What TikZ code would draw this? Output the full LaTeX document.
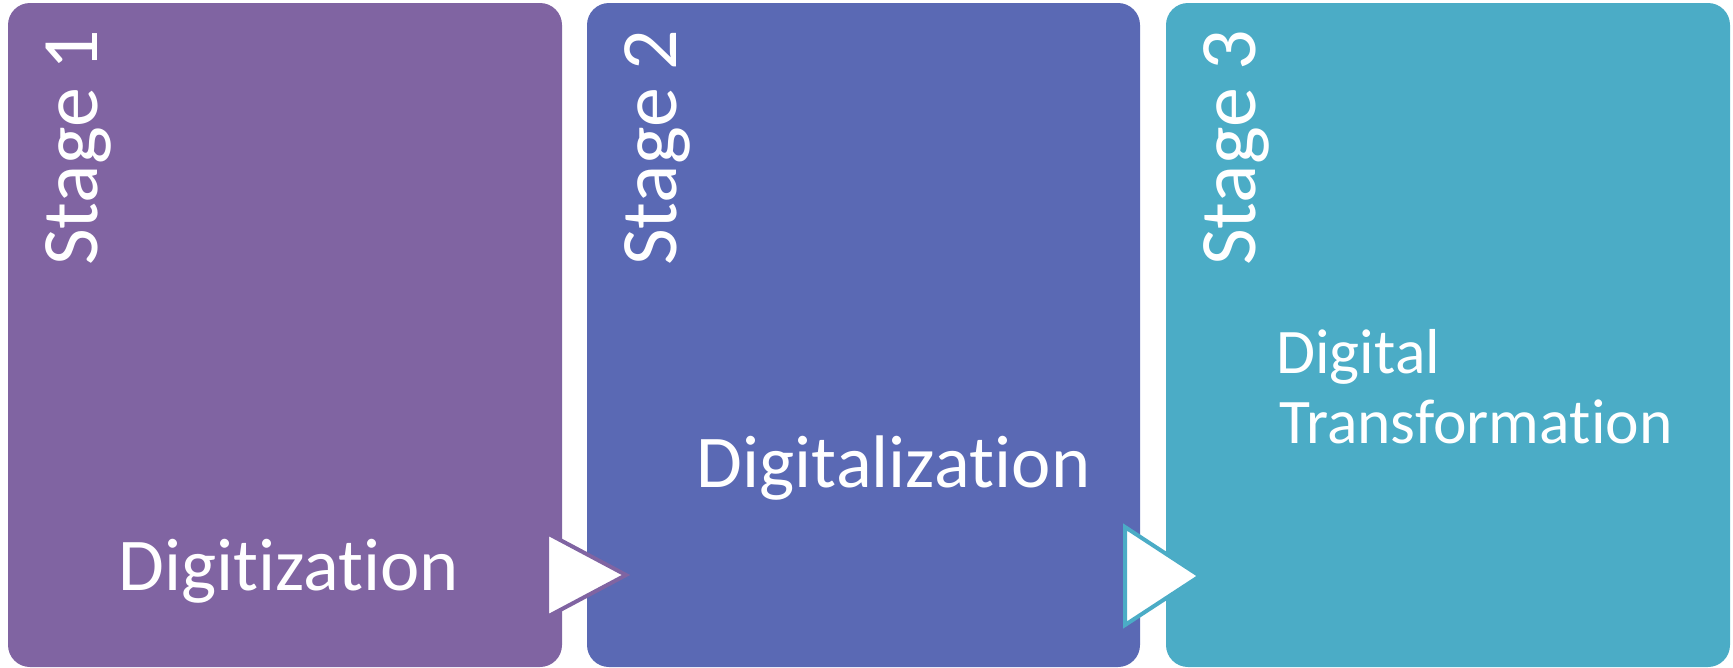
\documentclass[tikz,border=0pt]{standalone}
\usepackage{fontspec}
\setmainfont{Carlito}[RawFeature={-liga;-clig;-calt;-dlig;-rlig}]
\definecolor{cpurple}{HTML}{8064A2}
\definecolor{cblue}{HTML}{5A69B4}
\definecolor{cteal}{HTML}{4BACC6}
\tikzset{
  stagebox/.style={rounded corners=22pt, inner sep=0pt, outer sep=0pt, minimum width=#1, minimum height=664pt},
  stagelabel/.style={text=white, inner sep=0pt, rotate=90, anchor=base west, font=\fontsize{80}{96}\selectfont},
  namelabel/.style={text=white, inner sep=0pt, anchor=base west, font=\fontsize{74.5}{88}\selectfont},
  namelabelsmall/.style={text=white, inner sep=0pt, anchor=base west, font=\fontsize{63.5}{76}\selectfont},
  arrowtri/.style={fill=white, line width=4pt, line join=miter},
}
\begin{document}
\begin{tikzpicture}[x=1pt,y=-1pt]
\useasboundingbox (0,0) rectangle (1733,667);
% boxes
\node[stagebox=554pt, fill=cpurple] (b1) at (285,335) {};
\node[stagebox=553pt, fill=cblue] (b2) at (863.5,335) {};
\node[stagebox=564pt, fill=cteal] (b3) at (1448,335) {};
% stage labels
\node[stagelabel] (s1) at (97,266) {Stage 1};
\node[stagelabel] (s2) at (676,266) {Stage 2};
\node[stagelabel] (s3) at (1255,266) {Stage 3};
% names
\node[namelabel] (n1) at (118,590) {Digit\kern0pt ization};
\node[namelabel] (n2) at (696,487) {Digit\kern0pt aliza\kern0pt t\kern0pt ion};
\node[namelabelsmall] (n3a) at (1276,373) {Digit\kern0pt al};
\node[namelabelsmall] (n3b) at (1279,443) {Transforma\kern0pt t\kern0pt ion};
% triangles
\coordinate (t1a) at (547,533);
\coordinate (t1b) at (626,575);
\coordinate (t1c) at (547,617);
\draw[arrowtri, draw=cpurple] (t1a) -- (t1b) -- (t1c) -- cycle;
\coordinate (t2a) at (1125,527);
\coordinate (t2b) at (1200,576);
\coordinate (t2c) at (1125,625);
\draw[arrowtri, draw=cteal] (t2a) -- (t2b) -- (t2c) -- cycle;
\end{tikzpicture}
\end{document}
